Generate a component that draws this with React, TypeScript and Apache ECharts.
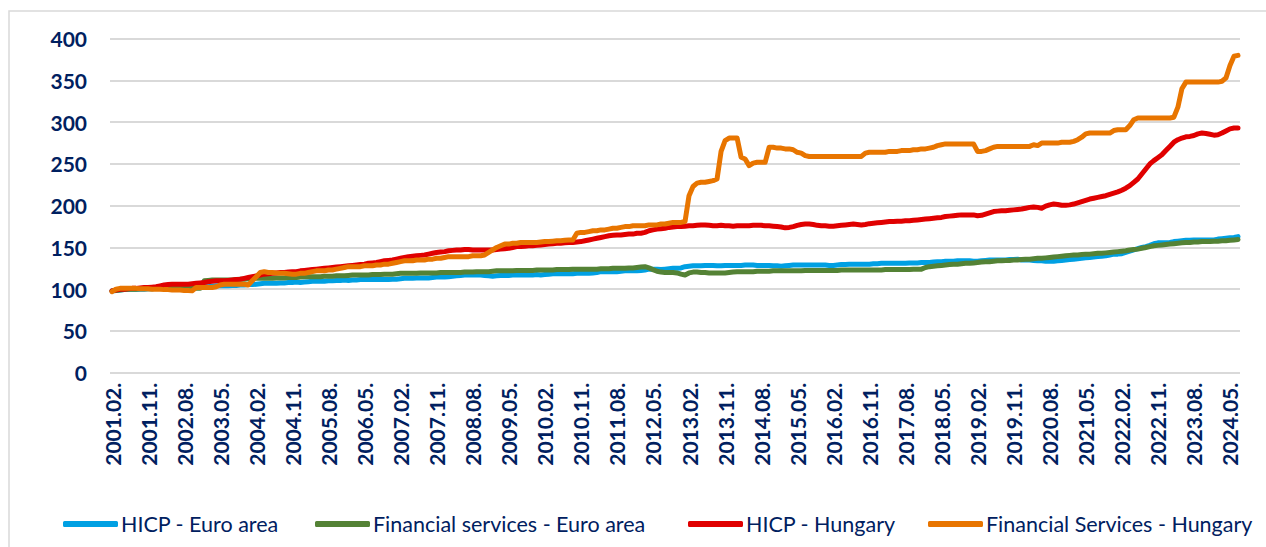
import React, { useEffect, useRef } from "react";
import * as echarts from "echarts";

// Monthly categories 2001.02 .. 2024.07
const categories: string[] = [];
for (let y = 2001; y <= 2024; y++) {
  for (let m = 1; m <= 12; m++) {
    if ((y === 2001 && m < 2) || (y === 2024 && m > 7)) continue;
    categories.push(`${y}.${m < 10 ? "0" + m : m}`);
  }
}

const yTicks = [0, 50, 100, 150, 200, 250, 300, 350, 400];

const seriesNames = [
  "HICP - Euro area",
  "Financial services - Euro area",
  "HICP - Hungary",
  "Financial Services - Hungary",
];

const hicpEuroArea = [
  98, 98.5, 99, 99.5, 100, 100, 100, 100, 100, 100.5, 100.5,
  101, 101, 101.5, 101.5, 102, 102, 102, 102, 102, 102.5, 102.5, 103,
  103, 103, 103.5, 104, 104, 104, 104, 104.5, 104.5, 105, 105, 105.5,
  105.5, 106, 106.5, 107, 107, 107, 107, 107.5, 107.5, 108, 108, 108.5,
  108, 108.5, 109, 109.5, 109.5, 109.5, 109.5, 110, 110, 110.5, 110.5, 111,
  110.5, 111, 111, 111.5, 111.5, 111.5, 111.5, 111.5, 111.5, 111.5, 111.5, 112,
  112, 112.5, 113, 113, 113, 113.5, 113.5, 113.5, 113.5, 114, 114.5, 115,
  114.5, 115, 115.5, 116, 116.5, 117, 117, 117, 117, 117, 116.5, 116,
  115.5, 116, 116.5, 116.5, 116.5, 117, 117, 117, 117, 117, 117, 117.5,
  117, 117.5, 118, 118.5, 118.5, 118.5, 118.5, 118.5, 118.5, 119, 119, 119.5,
  119, 119.5, 120, 121, 121, 121, 121, 121, 121.5, 122, 122, 122.5,
  122, 122.5, 123, 124, 124, 124, 123.5, 124, 124.5, 125, 125, 125.5,
  127, 127.5, 128, 128, 128, 128.5, 128.5, 128.5, 128, 128, 128.5, 128.5,
  128.5, 128.5, 128.5, 129, 129, 129, 128.5, 128.5, 128.5, 128.5, 128, 128,
  127.5, 128, 128.5, 129, 129, 129, 129, 129, 129, 129, 129, 129,
  128.5, 128.5, 129, 129.5, 129.5, 130, 130, 130, 130, 130, 130, 130.5,
  130.5, 131, 131, 131, 131, 131, 131, 131, 131.5, 131.5, 131.5, 132,
  132, 132, 132.5, 133, 133, 133.5, 133.5, 133.5, 134, 134, 134, 134,
  133.5, 133.5, 134, 134.5, 135, 135, 135, 135, 135, 135.5, 135.5, 136,
  135, 135, 135, 134.5, 134, 134, 133.5, 133.5, 133.5, 134, 134.5, 135,
  135.5, 136, 136.5, 137, 137.5, 138, 138.5, 139, 139.5, 140, 141, 142,
  142, 142.5, 144, 145.5, 147, 148.5, 150, 151, 152.5, 154.5, 155.5, 155.5,
  155.5, 156, 157, 157.5, 158, 158.5, 158.5, 159, 159, 159, 159, 159,
  159, 160, 160.5, 161, 161.5, 162, 163,
];

const finServicesEuroArea = [
  98, 98.5, 99, 99.5, 100, 100, 100, 100.5, 100.5, 100.5, 100.5,
  101, 101, 101, 101, 101, 101, 101, 101, 101, 101, 101, 101,
  110, 110.5, 111, 111, 111, 111, 111, 111, 111.5, 112, 112, 112.5,
  113, 113, 113, 113, 113, 113, 113.5, 113.5, 113.5, 114, 114, 114,
  114.5, 115, 115, 115, 115, 115, 115.5, 115.5, 115.5, 116, 116, 116,
  116.5, 117, 117, 117, 117, 117, 117.5, 117.5, 117.5, 118, 118, 118,
  118.5, 119, 119, 119, 119, 119, 119.5, 119.5, 119.5, 119.5, 119.5, 120,
  120, 120, 120, 120, 120, 120.5, 120.5, 120.5, 121, 121, 121, 121,
  121.5, 122, 122, 122, 122, 122, 122.5, 122.5, 122.5, 122.5, 122.5, 123,
  123, 123, 123, 123, 123.5, 123.5, 123.5, 123.5, 124, 124, 124, 124,
  124, 124, 124, 124.5, 124.5, 124.5, 125, 125, 125, 125, 125.5, 125.5,
  126, 126.5, 127, 125.5, 123.5, 121.5, 120.5, 120, 120, 120, 119.5, 118,
  117, 119.5, 120.5, 120.5, 120, 120, 119.5, 119.5, 119.5, 119.5, 119.5, 120,
  120.5, 121, 121, 121, 121, 121, 121.5, 121.5, 121.5, 121.5, 122, 122,
  122, 122, 122, 122, 122, 122, 122.5, 122.5, 122.5, 122.5, 122.5, 122.5,
  122.5, 122.5, 122.5, 123, 123, 123, 123, 123, 123, 123, 123, 123,
  123, 123, 123.5, 123.5, 123.5, 123.5, 123.5, 123.5, 123.5, 124, 124, 124,
  126, 127, 127.5, 128, 128.5, 129, 129.5, 130, 130, 130.5, 131, 131,
  131.5, 132, 132.5, 133, 133, 133.5, 134, 134, 134.5, 134.5, 135, 135,
  135.5, 136, 136, 136.5, 137, 137, 137.5, 138, 138.5, 139, 139.5, 140,
  140.5, 141, 141, 141.5, 142, 142, 142.5, 143, 143, 143.5, 144, 144.5,
  145, 145.5, 146, 147, 147.5, 148, 149, 150, 151, 152, 152.5, 153,
  153.5, 154, 154.5, 155, 155.5, 156, 156, 156.5, 156.5, 157, 157, 157,
  157.5, 157.5, 158, 158, 158.5, 159, 159.5,
];

const hicpHungary = [
  98, 99, 100, 100, 100.5, 101, 101, 101.5, 102, 102, 102.5,
  103, 104, 105, 105.5, 106, 106, 106, 106, 106, 106.5, 107, 107.5,
  108, 109, 109.5, 110, 110, 110, 110.5, 111, 111.5, 112, 113, 114,
  115, 116, 117, 118, 118.5, 119, 119.5, 120, 120, 120.5, 121, 121,
  122, 122.5, 123, 123.5, 124, 124.5, 125, 125.5, 126, 126.5, 127, 127.5,
  128, 128.5, 129, 129.5, 130, 131, 131.5, 132, 133, 134, 134.5, 135,
  136, 137, 138, 139, 139.5, 140, 140.5, 141, 142, 143, 144, 144.5,
  145, 146, 146.5, 147, 147, 147.5, 147.5, 147, 147, 147, 147, 147,
  147, 147.5, 148, 148.5, 149, 150, 151, 151, 151.5, 152, 152, 152.5,
  153, 153.5, 154, 154.5, 155, 155, 155.5, 156, 156, 156.5, 157, 158,
  159, 160, 161, 162, 163, 164, 164.5, 165, 165, 165.5, 166, 166,
  167, 167, 168, 170, 171, 172, 172.5, 173, 174, 174.5, 175, 175,
  175.5, 176, 176, 176.5, 177, 177, 176.5, 176, 176, 176.5, 176, 176,
  175.5, 176, 176, 176, 176, 176.5, 176.5, 176.5, 176, 176, 175.5, 175,
  174.5, 173.5, 174, 175, 176.5, 177.5, 178, 178, 177.5, 176.5, 176, 176,
  175.5, 175.5, 176, 176.5, 177, 177.5, 178, 177.5, 177, 177.5, 178.5, 179,
  179.5, 180, 180.5, 181, 181, 181.5, 181.5, 182, 182, 182.5, 183, 183.5,
  184, 184.5, 185, 185.5, 186, 187, 187.5, 188, 188.5, 189, 189, 189,
  189, 188, 188.5, 190, 191.5, 193, 193.5, 194, 194, 194.5, 195, 195.5,
  196, 197, 198, 198.5, 198, 197, 199.5, 201, 202, 201.5, 200.5, 200.5,
  201, 202, 203.5, 205, 206.5, 208, 209, 210, 211, 212, 213.5, 215,
  216.5, 218.5, 221, 224, 228, 232, 238, 244, 250, 254, 257.5, 261,
  266, 271, 276, 279, 281, 282.5, 283, 284, 286, 287, 286.5, 285.5,
  284.5, 285, 287, 289.5, 292, 293, 293,
];

const finServicesHungary = [
  97, 100, 101, 101, 101, 101, 101, 100.5, 100.5, 100.5, 100,
  100, 100, 99.5, 99.5, 99, 99, 99, 98.5, 98.5, 98, 102, 102,
  102, 102, 102, 103, 105, 106, 106, 106, 106, 106, 106, 105,
  110, 115, 120, 121, 120, 120, 119.5, 119, 119, 118.5, 118, 118,
  119, 119, 120, 121, 122, 122, 122, 123, 123, 124, 125, 126,
  127, 127, 127, 127, 128, 128, 128, 129, 129, 130, 130, 131,
  132, 133, 134, 134, 134, 135, 135, 135, 136, 136, 137, 137,
  138, 139, 139, 139, 139, 139, 139, 140, 140, 140, 141, 144,
  147, 150, 152, 154, 154, 155, 155, 156, 156, 156, 156, 156,
  156.5, 157, 157, 157.5, 158, 158, 158.5, 159, 159, 167, 168, 168,
  169, 170, 170, 171, 171, 172, 173, 173, 174, 175, 175, 176,
  176, 176, 176, 177, 177, 177, 178, 178, 179, 180, 180, 180,
  181, 212, 223, 227, 228, 228, 229, 230, 232, 265, 278, 281,
  281, 281, 258, 256, 248, 251, 252, 252, 252, 270, 270, 269,
  269, 268, 268, 267, 264, 263, 260, 259, 259, 259, 259, 259,
  259, 259, 259, 259, 259, 259, 259, 259, 259, 263, 264, 264,
  264, 264, 264, 265, 265, 265, 266, 266, 266, 267, 267, 268,
  268, 269, 270, 272, 273, 274, 274, 274, 274, 274, 274, 274,
  274, 265, 265, 266, 268, 270, 271, 271, 271, 271, 271, 271,
  271, 271, 271, 273, 272, 275, 275, 275, 275, 275, 276, 276,
  276, 277, 279, 282, 286, 287, 287, 287, 287, 287, 287, 290,
  291, 291, 291, 296, 303, 305, 305, 305, 305, 305, 305, 305,
  305, 305, 306, 318, 340, 348, 348, 348, 348, 348, 348, 348,
  348, 348, 349, 353, 368, 379, 380,
];

const colors = ["#00a0e3", "#548235", "#e00000", "#e87500"];
const seriesData = [hicpEuroArea, finServicesEuroArea, hicpHungary, finServicesHungary];
const legendLefts = [58, 310, 683, 923];

const NAVY = "#002060";
const FONT = "Lato, 'Noto Sans', sans-serif";

export default function App() {
  const ref = useRef<HTMLDivElement>(null);

  useEffect(() => {
    document.body.style.margin = "0";
    if (!ref.current) return;
    const chart = echarts.init(ref.current, undefined, { renderer: "svg" });
    chart.setOption({
      animation: false,
      backgroundColor: "#ffffff",
      textStyle: { fontFamily: FONT },
      graphic: [
        {
          type: "rect",
          shape: { x: 9, y: 11, width: 1300, height: 600 },
          style: { fill: "none", stroke: "#d9d9d9", lineWidth: 1.5 },
          silent: true,
        },
      ],
      grid: { left: 110, right: 26, top: 38.7, bottom: 174.3, containLabel: false },
      legend: seriesNames.map((name, k) => ({
        data: [name],
        left: legendLefts[k],
        top: 508,
        icon: "roundRect",
        itemWidth: 55,
        itemHeight: 6,
        itemGap: 0,
        textStyle: { color: NAVY, fontSize: 21.5, fontFamily: FONT, padding: [0, 0, 0, -2] },
        selectedMode: false,
      })),
      xAxis: {
        type: "category",
        data: categories,
        boundaryGap: true,
        axisLine: { show: false },
        axisTick: { show: false },
        splitLine: { show: false },
        axisLabel: {
          interval: 8,
          rotate: 90,
          margin: 10,
          color: NAVY,
          fontWeight: "bold",
          fontSize: 21,
          fontFamily: FONT,
          formatter: (v: string) => v + ".",
        },
      },
      yAxis: {
        type: "value",
        min: yTicks[0],
        max: yTicks[yTicks.length - 1],
        interval: 50,
        axisLine: { show: false },
        axisTick: { show: false },
        splitLine: { show: true, lineStyle: { color: "#d9d9d9", width: 2 } },
        axisLabel: {
          margin: 23,
          color: NAVY,
          fontWeight: "bold",
          fontSize: 21,
          fontFamily: FONT,
        },
      },
      series: seriesNames.map((name, k) => ({
        name,
        type: "line",
        data: seriesData[k],
        showSymbol: false,
        symbol: "none",
        color: colors[k],
        lineStyle: { color: colors[k], width: 5, cap: "round", join: "round" },
        z: 2 + k,
      })),
    });
    return () => chart.dispose();
  }, []);

  return <div ref={ref} style={{ width: 1266, height: 547 }} />;
}
